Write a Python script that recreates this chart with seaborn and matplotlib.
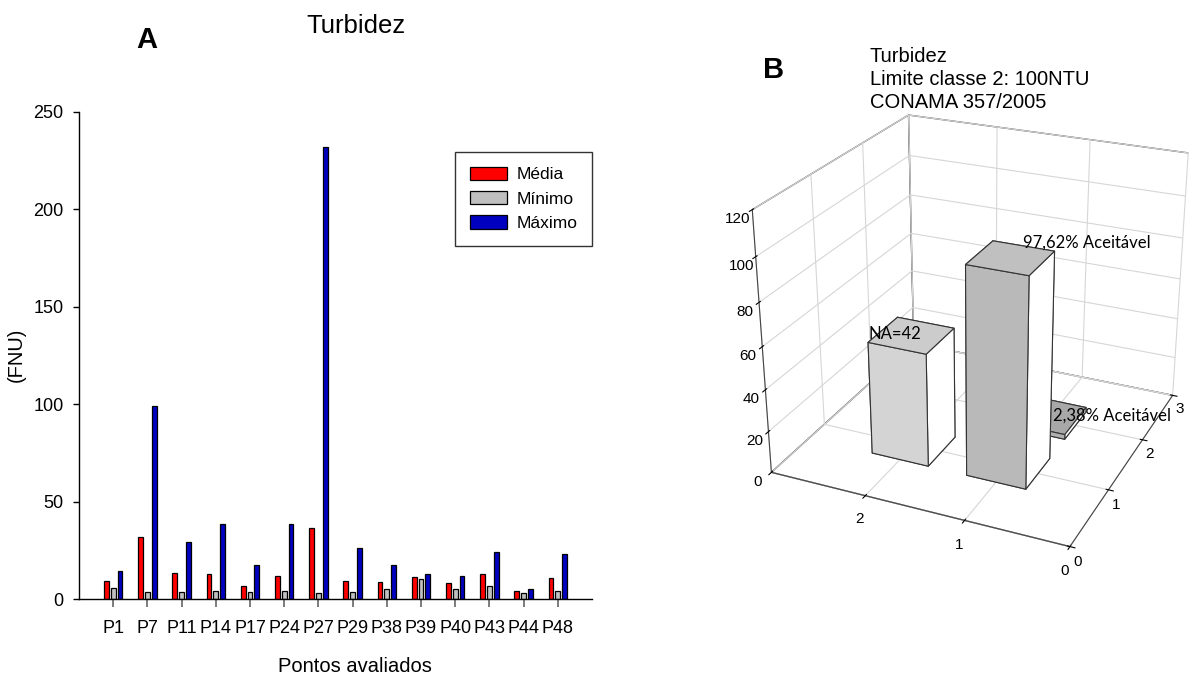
import numpy as np
import pandas as pd
import matplotlib
matplotlib.use("Agg")
import matplotlib.pyplot as plt
from matplotlib import font_manager
import seaborn as sns

# ---------------- data (panel A) ----------------
pontos = ['P1', 'P7', 'P11', 'P14', 'P17', 'P24', 'P27', 'P29', 'P38', 'P39', 'P40', 'P43', 'P44', 'P48']
media = [9.4, 32.0, 13.3, 12.8, 6.8, 11.7, 36.4, 9.2, 8.8, 11.4, 8.0, 12.8, 3.9, 10.9]
minimo = [5.8, 3.7, 3.7, 4.1, 3.4, 3.9, 3.2, 3.7, 5.1, 10.5, 5.3, 6.8, 3.2, 3.9]
maximo = [14.5, 99.0, 29.4, 38.4, 17.2, 38.6, 232.0, 26.2, 17.2, 12.6, 11.6, 24.3, 4.9, 23.1]
series_names = ['Média', 'Mínimo', 'Máximo']
series_colors = ['#ff0000', '#c0c0c0', '#0000c0']
y_ticks_a = [0, 50, 100, 150, 200, 250]

# ---------------- data (panel B) ----------------
b_x = [2, 1, 1]
b_y = [1, 1, 2]
b_height = [54.0, 97.62, 2.38]
b_labels = ['NA=42', '97,62% Aceitável', '2,38% Aceitável']
b_front = ['#d4d4d4', '#b9b9b9', '#b0b0b0']
b_top = ['#cccccc', '#c0c0c0', '#a8a8a8']
z_ticks_b = [0, 20, 40, 60, 80, 100, 120]
x_ticks_b = [0, 1, 2]
y_ticks_b = [0, 1, 2, 3]

sns.set_style("ticks")
avail = {f.name for f in font_manager.fontManager.ttflist}
narrow = 'Liberation Sans Narrow' if 'Liberation Sans Narrow' in avail else 'Liberation Sans'
plt.rcParams['font.family'] = ['Liberation Sans', 'DejaVu Sans']
for k in ['text.color', 'axes.labelcolor', 'xtick.color', 'ytick.color', 'axes.edgecolor']:
    plt.rcParams[k] = 'black'
plt.rcParams['grid.color'] = '#d6d6d6'
plt.rcParams['grid.linewidth'] = 0.8

fig = plt.figure(figsize=(11.96, 6.77), dpi=100)

# ================= Panel A =================
df = pd.DataFrame({
    'ponto': np.repeat(pontos, 3),
    'serie': series_names * len(pontos),
    'valor': np.ravel(np.column_stack([media, minimo, maximo])),
})
axA = fig.add_axes([79 / 1196, 1 - 599 / 677, 513 / 1196, 487.5 / 677])
sns.barplot(data=df, x='ponto', y='valor', hue='serie', hue_order=series_names,
            palette=series_colors, width=0.6, gap=0.3, edgecolor='black',
            linewidth=0.9, errorbar=None, ax=axA, saturation=1)
axA.set_xlim(-1.0, 14.0)
axA.set_ylim(0, 250)
axA.set_yticks(y_ticks_a)
for s in ['top', 'right']:
    axA.spines[s].set_visible(False)
for s in ['left', 'bottom']:
    axA.spines[s].set_linewidth(1.0)
    axA.spines[s].set_color('black')
axA.tick_params(axis='y', direction='out', length=4, width=1, pad=7, labelsize=13, colors='black')
axA.tick_params(axis='x', direction='out', length=6, width=1.2, color='#666666', pad=9,
                labelsize=13, labelcolor='black')
for lab in axA.get_xticklabels() + axA.get_yticklabels():
    lab.set_family(narrow)
axA.set_xlabel('Pontos avaliados', fontsize=14.5, color='black')
axA.xaxis.set_label_coords(0.538, -0.118)
axA.set_ylabel('(FNU)', fontsize=14.5, color='black')
axA.yaxis.set_label_coords(-0.103, 0.5)
handles, labels = axA.get_legend_handles_labels()
leg = axA.legend(handles, labels, loc='upper right', bbox_to_anchor=(1.0, 0.917),
                 borderaxespad=0, frameon=True, fancybox=False, edgecolor='black',
                 handlelength=2.1, handleheight=0.8, handletextpad=0.55,
                 borderpad=0.85, labelspacing=0.5, prop={'family': narrow, 'size': 12.5})
leg.get_frame().set_linewidth(1.0)
for t in leg.get_texts():
    t.set_color('black')
fig.text(356 / 1196, 1 - 26 / 677, 'Turbidez', ha='center', va='center',
         fontsize=18.5, family=narrow, color='black')
fig.text(147 / 1196, 1 - 40 / 677, 'A', ha='center', va='center',
         fontsize=21, fontweight='bold', color='black')

# ================= Panel B =================
axB = fig.add_axes([0.595, 0.115, 0.44, 0.83], projection='3d')
axB.set_proj_type('persp', focal_length=0.5)
axB.view_init(elev=25, azim=-66)
axB.set_box_aspect((1, 1, 0.88), zoom=0.97)
n = len(b_x)
xs = np.array(b_x, float) - 0.3
ys = np.array(b_y, float) - 0.3
face_colors = []
for i in range(n):
    # order: -z, +z, -y, +y, -x, +x
    face_colors += ['white', b_top[i], b_front[i], 'white', 'white', 'white']
axB.bar3d(xs, ys, np.zeros(n), 0.6, 0.6, b_height, color=face_colors,
          shade=False, edgecolor='#333333', linewidth=0.8)
axB.set_xlim(3, 0)
axB.set_ylim(0, 3)
axB.set_zlim(0, 120)
axB.set_xticks(x_ticks_b)
axB.set_yticks(y_ticks_b)
axB.set_zticks(z_ticks_b)
for axis in (axB.xaxis, axB.yaxis, axB.zaxis):
    axis.set_pane_color((1, 1, 1, 1))
    axis.pane.set_edgecolor('#555555')
    axis.line.set_color('#444444')
    axis.line.set_linewidth(0.8)
    axis.label.set_visible(False)
axB.zaxis.set_ticks_position('lower')
axB.tick_params(labelsize=11, colors='black')
axB.tick_params(axis='x', pad=0)
axB.tick_params(axis='y', pad=-3)
axB.tick_params(axis='z', pad=-2)
label_pos = [(2.3, 0.7, 0.0), (1.0, 1.3, -2.0), (1.05, 2.3, -12.0)]
for i in range(n):
    px, py, dz = label_pos[i]
    axB.text(px, py, b_height[i] + dz, b_labels[i],
             family=['Lato', 'DejaVu Sans'], fontsize=12, ha='left', va='bottom',
             color='black')
fig.text(870 / 1196, 1 - 47 / 677, 'Turbidez\nLimite classe 2: 100NTU\nCONAMA 357/2005',
         ha='left', va='top', fontsize=14.5, linespacing=1.28, color='black')
fig.text(774 / 1196, 1 - 70 / 677, 'B', ha='center', va='center',
         fontsize=21, fontweight='bold', color='black')

fig.savefig('out.png', dpi=100)
